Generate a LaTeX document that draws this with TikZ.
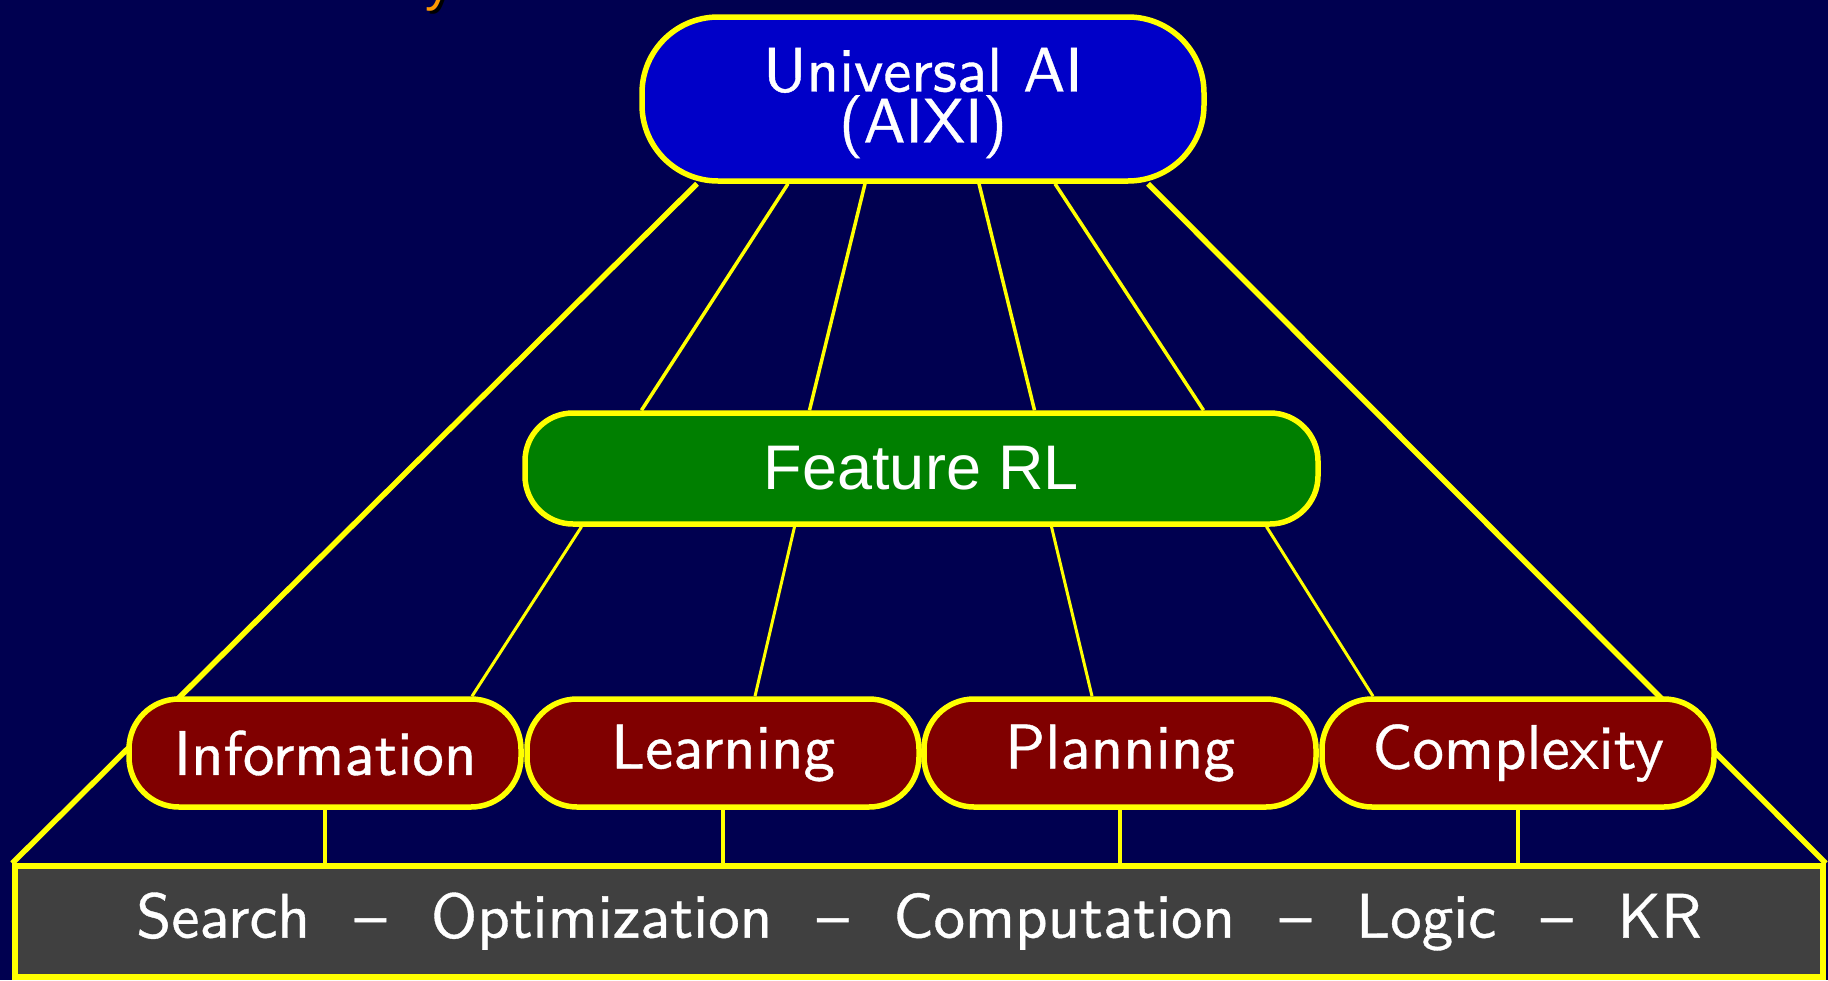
\documentclass[tikz,border=0pt]{standalone}
\usepackage{fontspec}
\newfontfamily\arialfont{Liberation Sans}
\newfontfamily\lmsten[FakeBold=0.6,Ligatures=TeX]{lmsans10-regular.otf}
\usetikzlibrary{calc}
\definecolor{bgnavy}{HTML}{000050}
\definecolor{topblue}{HTML}{0000C8}
\definecolor{featgreen}{HTML}{007F00}
\definecolor{boxred}{HTML}{800000}
\definecolor{bargray}{HTML}{404040}
\definecolor{lineyellow}{HTML}{FFFF00}
\definecolor{titleorange}{HTML}{FF9900}
\pgfdeclarelayer{bg}
\pgfsetlayers{bg,main}
\begin{document}
\begin{tikzpicture}[x=1pt,y=-1pt,
  pill/.style={draw=lineyellow, line width=5.5pt, text=white, inner sep=0pt, align=center},
  topbox/.style={pill, fill=topblue, rounded corners=76pt, minimum width=562pt, minimum height=164pt},
  toptext/.style={text=white, inner sep=0pt, align=center, font=\lmsten\fontsize{63}{51}\selectfont},
  featbox/.style={pill, fill=featgreen, rounded corners=48pt, minimum width=793pt, minimum height=111pt,
    font=\arialfont\fontsize{63}{70}\selectfont},
  areabox/.style={pill, fill=boxred, rounded corners=50pt, minimum width=392pt, minimum height=108pt,
    font=\lmsten\fontsize{63}{70}\selectfont},
  barbox/.style={draw=lineyellow, line width=5.5pt, fill=bargray, text=white, inner sep=0pt,
    minimum width=1808pt, minimum height=111pt, font=\lmsten\fontsize{63}{70}\selectfont},
  outerline/.style={draw=lineyellow, line width=5.5pt},
  innerline/.style={draw=lineyellow, line width=3.5pt},
  lowline/.style={draw=lineyellow, line width=3pt},
  vline/.style={draw=lineyellow, line width=3.5pt}
]
\begin{pgfonlayer}{bg}
\fill[bgnavy] (0,0) rectangle (1828,980);
\end{pgfonlayer}
\useasboundingbox (0,0) rectangle (1828,980);

% orange title fragment (cut off at the top)
\node[anchor=base, text=black, font=\arialfont\fontsize{52}{60}\selectfont, inner sep=0pt] (titleshadow) at (441,3) {y};
\node[anchor=base, text=titleorange, font=\arialfont\fontsize{52}{60}\selectfont, inner sep=0pt] (title) at (438,0) {y};

% nodes
\node[topbox] (top) at (923,99) {};
\node[toptext] (toplabel) at (923,103) {Universal AI\\(AIXI)};
\node[featbox] (feat) at (921.5,468.5) {Feature RL};
\node[areabox] (info) at (325,753) {Information};
\node[areabox] (learn) at (723,753) {Learning};
\node[areabox] (plan) at (1120,753) {Planning};
\node[areabox] (comp) at (1518,753) {Complexity};
\node[barbox] (bar) at (919,921.5) {Search\hspace{0.71em}--\hspace{0.71em}Optimization\hspace{0.71em}--\hspace{0.71em}Computation\hspace{0.71em}--\hspace{0.71em}Logic\hspace{0.71em}--\hspace{0.71em}KR};

% connectors (behind the nodes)
\begin{pgfonlayer}{bg}
\draw[outerline] ([xshift=-226pt]top.south) -- (bar.north west);
\draw[outerline] ([xshift=225pt]top.south) -- (bar.north east);
\draw[innerline] ([xshift=-135pt]top.south) -- ([xshift=-280pt]feat.north);
\draw[innerline] ([xshift=-58pt]top.south) -- ([xshift=-112pt]feat.north);
\draw[innerline] ([xshift=56pt]top.south) -- ([xshift=113pt]feat.north);
\draw[innerline] ([xshift=132pt]top.south) -- ([xshift=282pt]feat.north);
\draw[lowline] ([xshift=-340pt]feat.south) -- ([xshift=147pt]info.north);
\draw[lowline] ([xshift=-127pt]feat.south) -- ([xshift=32pt]learn.north);
\draw[lowline] ([xshift=130pt]feat.south) -- ([xshift=-28pt]plan.north);
\draw[lowline] ([xshift=345pt]feat.south) -- ([xshift=-145pt]comp.north);
\draw[vline] (info.south) -- (info.south |- bar.north);
\draw[vline] (learn.south) -- (learn.south |- bar.north);
\draw[vline] (plan.south) -- (plan.south |- bar.north);
\draw[vline] (comp.south) -- (comp.south |- bar.north);
\end{pgfonlayer}
\end{tikzpicture}
\end{document}
